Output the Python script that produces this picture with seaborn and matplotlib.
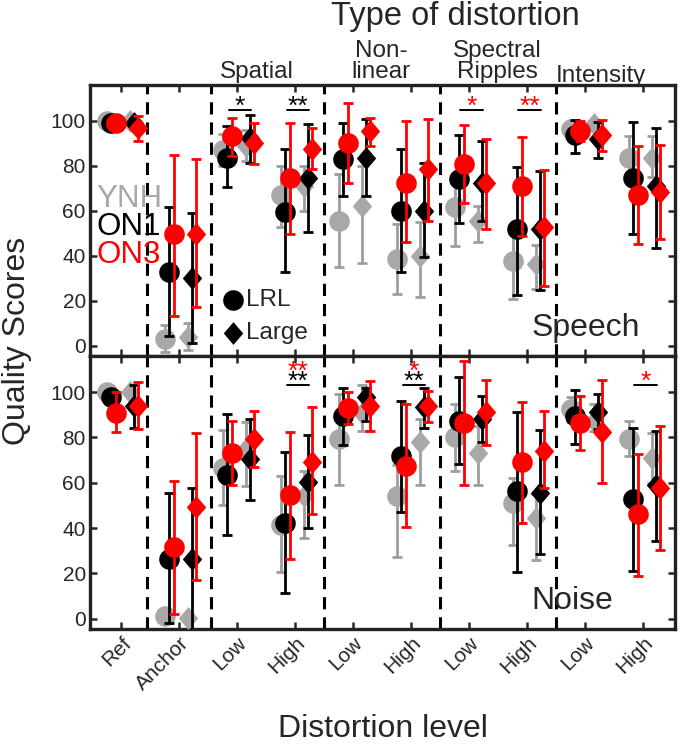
import numpy as np
import pandas as pd
import matplotlib
matplotlib.use("Agg")
import matplotlib.pyplot as plt
from matplotlib.path import Path
import seaborn as sns

# 类别
levels = ["Ref", "Anchor", "Low", "High", "Low", "High", "Low", "High", "Low", "High"]
groups = ["YNH", "ON1", "ON3"]
ftypes = ["LRL", "Large"]

# Speech 数据 (均值, 下限, 上限)
sp_ynh_lrl = [100, 3, 87, 67, 55.5, 38.5, 61.5, 37.8, 96.3, 83.7]
sp_ynh_lrl_lo = [99, -3, 80, 52.6, 34.8, 23, 44.4, 20.7, 93, 75]
sp_ynh_lrl_hi = [101, 9, 94, 80, 76.3, 54, 75, 50, 99, 93.3]
sp_on1_lrl = [99, 32.6, 83.4, 59.3, 83, 60, 74, 51.8, 93.6, 74.8]
sp_on1_lrl_lo = [98, 4.4, 70.4, 32.6, 66.7, 32.6, 54.8, 22.5, 85.6, 49.6]
sp_on1_lrl_hi = [100, 61.5, 97.8, 87.7, 99.3, 87.4, 93.6, 79.3, 100.3, 99.5]
sp_on3_lrl = [99.3, 49.6, 93.3, 74.5, 90.4, 72.6, 80.7, 71, 95.5, 67]
sp_on3_lrl_lo = [98, 13.3, 84.4, 49.6, 72.6, 46.2, 63.4, 48.9, 91, 45.2]
sp_on3_lrl_hi = [100.5, 85, 101.5, 99.3, 108, 100, 98.2, 93, 100, 88.9]
sp_ynh_large = [100, 3.7, 89, 71, 62.2, 40, 55.5, 36.3, 98.5, 83.7]
sp_ynh_large_lo = [99, -2, 82, 60, 37, 21.5, 46, 25, 96, 75]
sp_ynh_large_hi = [101, 10, 96, 80, 80, 55, 62, 45, 100, 93.3]
sp_on1_large = [99, 30, 92.6, 74.4, 83.7, 60, 72.6, 51.8, 92.1, 71]
sp_on1_large_lo = [97, 1, 81.5, 50.7, 66.7, 39.3, 55.5, 24.9, 83.7, 43.3]
sp_on1_large_hi = [101, 59, 102.5, 98.5, 100.7, 81.5, 91, 77.8, 99.5, 97]
sp_on3_large = [96.7, 49.6, 90.4, 87.4, 95.5, 78.5, 72.3, 52.6, 93.6, 68.4]
sp_on3_large_lo = [91, 17.3, 80.7, 78.5, 89, 55.5, 52, 26.7, 86.7, 47.4]
sp_on3_large_hi = [102, 83, 99, 97, 101.5, 100.7, 91.8, 78, 100.4, 89.2]

# Noise 数据
no_ynh_lrl = [100, 1.2, 66.6, 41.3, 79.5, 54, 80.4, 51, 92.6, 79.2]
no_ynh_lrl_lo = [99, -1, 50.2, 20.5, 59.1, 27.2, 65, 32.4, 87, 72]
no_ynh_lrl_hi = [101, 3, 83.4, 62.9, 99.3, 68, 95, 62, 98, 87.4]
no_on1_lrl = [97.8, 26.4, 63.6, 42.3, 89.6, 71.8, 87.4, 56.2, 89.6, 52.7]
no_on1_lrl_lo = [95, -1.8, 36.8, 11.3, 76.7, 47.3, 68.4, 20.8, 77.3, 21.2]
no_on1_lrl_hi = [100, 55.7, 90.3, 73.6, 102, 96, 106.7, 91.4, 101.2, 84.4]
no_on3_lrl = [91, 31.6, 73.3, 54.4, 92.9, 67.3, 86.6, 69.1, 86.6, 46.2]
no_on3_lrl_lo = [82.5, 2.2, 59.1, 26.4, 85.9, 40.3, 59.1, 42.3, 74.3, 18.6]
no_on3_lrl_hi = [100.3, 60.6, 87.4, 82.5, 100, 94.8, 114, 95.5, 98.5, 72.5]
no_ynh_large = [100, 0.4, 74.7, 54, 91, 78, 73.3, 44.3, 87.4, 71]
no_ynh_large_lo = [99, -1, 58.4, 35.4, 83, 59.1, 59.1, 26, 83, 60]
no_ynh_large_hi = [101, 2, 86.9, 65, 103, 88, 85, 55, 95, 82]
no_on1_large = [93.8, 26.4, 70.3, 60.3, 97.8, 93.3, 88.1, 55.7, 91.4, 59.1]
no_on1_large_lo = [84.4, -5.5, 52.2, 39.8, 87.4, 84.4, 78, 28.4, 83.7, 34.3]
no_on1_large_hi = [103, 57.7, 88.1, 81, 102, 101.8, 98.5, 83.4, 99.3, 82.9]
no_on3_large = [94, 49.5, 79.2, 69.1, 94, 93.8, 91.4, 74, 82.5, 57.7]
no_on3_large_lo = [83.7, 17.1, 67, 46, 83, 86.9, 76.5, 57.7, 59.9, 30.2]
no_on3_large_hi = [104.5, 81.9, 91.8, 93.3, 105, 100.7, 105.6, 91.8, 105.2, 85.1]

# 显著性标记: (类别序号, [(文字, 颜色), ...] 自下而上)
sp_sig = [(3, [("*", "black")]), (4, [("**", "black")]),
          (7, [("*", "red")]), (8, [("**", "red")])]
no_sig = [(4, [("**", "black"), ("**", "red")]),
          (6, [("**", "black"), ("*", "red")]),
          (10, [("*", "red")])]

panels = {
    "Speech": {
        ("YNH", "LRL"): (sp_ynh_lrl, sp_ynh_lrl_lo, sp_ynh_lrl_hi),
        ("ON1", "LRL"): (sp_on1_lrl, sp_on1_lrl_lo, sp_on1_lrl_hi),
        ("ON3", "LRL"): (sp_on3_lrl, sp_on3_lrl_lo, sp_on3_lrl_hi),
        ("YNH", "Large"): (sp_ynh_large, sp_ynh_large_lo, sp_ynh_large_hi),
        ("ON1", "Large"): (sp_on1_large, sp_on1_large_lo, sp_on1_large_hi),
        ("ON3", "Large"): (sp_on3_large, sp_on3_large_lo, sp_on3_large_hi),
    },
    "Noise": {
        ("YNH", "LRL"): (no_ynh_lrl, no_ynh_lrl_lo, no_ynh_lrl_hi),
        ("ON1", "LRL"): (no_on1_lrl, no_on1_lrl_lo, no_on1_lrl_hi),
        ("ON3", "LRL"): (no_on3_lrl, no_on3_lrl_lo, no_on3_lrl_hi),
        ("YNH", "Large"): (no_ynh_large, no_ynh_large_lo, no_ynh_large_hi),
        ("ON1", "Large"): (no_on1_large, no_on1_large_lo, no_on1_large_hi),
        ("ON3", "Large"): (no_on3_large, no_on3_large_lo, no_on3_large_hi),
    },
}

# 样式
sns.set_style("ticks")
plt.rcParams['font.family'] = ['Liberation Sans', 'DejaVu Sans']

marker_col = {"YNH": "#A8A8A8", "ON1": "black", "ON3": "#FF0000"}
err_col = {"YNH": "#9E9E9E", "ON1": "black", "ON3": "#FF0000"}
offset = {("YNH", "LRL"): -0.25, ("ON1", "LRL"): -0.17, ("ON3", "LRL"): -0.09,
          ("YNH", "Large"): 0.15, ("ON1", "Large"): 0.22, ("ON3", "Large"): 0.29}
diamond = Path([(0, 1), (0.85, 0), (0, -1), (-0.85, 0), (0, 1)],
               [Path.MOVETO, Path.LINETO, Path.LINETO, Path.LINETO, Path.CLOSEPOLY])
markers = {"LRL": "o", "Large": diamond}
sizes = {"LRL": 220, "Large": 270}

fig = plt.figure(figsize=(6.8, 7.46), dpi=100)
W, H = 680, 746
ax_top = fig.add_axes([90 / W, 1 - 356 / H, 585 / W, 271 / H])
ax_bot = fig.add_axes([90 / W, 1 - 629 / H, 585 / W, 273 / H])
xpos = np.arange(1, len(levels) + 1)

for ax, (name, pdata), sig in zip([ax_top, ax_bot], panels.items(), [sp_sig, no_sig]):
    rows = []
    for (g, t), (m, lo, hi) in pdata.items():
        for i in range(len(levels)):
            rows.append({"x": xpos[i] + offset[(g, t)], "score": m[i], "lo": lo[i],
                         "hi": hi[i], "group": g, "type": t})
    df = pd.DataFrame(rows)

    # 分组绘制：误差线 + 点
    for k, g in enumerate(groups):
        sub = df[df["group"] == g]
        ax.errorbar(sub["x"], sub["score"],
                    yerr=[sub["score"] - sub["lo"], sub["hi"] - sub["score"]],
                    fmt="none", ecolor=err_col[g], elinewidth=2.0, capsize=3.5,
                    capthick=2.0, zorder=2 + 2 * k)
        for t in ftypes:
            st = sub[sub["type"] == t]
            sns.scatterplot(data=st, x="x", y="score", ax=ax, color=marker_col[g],
                            marker=markers[t], s=sizes[t], linewidth=0,
                            legend=False, zorder=3 + 2 * k)

    # 分隔虚线
    for xv in [1.45, 2.55, 4.5, 6.5, 8.5]:
        ax.axvline(xv, color="black", lw=2.2, dashes=(4, 2.6), zorder=1)

    # 显著性
    base = 105 if name == "Speech" else 103.3
    for ci, stars in sig:
        ax.plot([ci - 0.15, ci + 0.24], [base, base], color="black", lw=1.4, zorder=10)
        for j, (txt, c) in enumerate(stars):
            ax.text(ci + 0.045, base - 1.8 + 4.6 * j, txt, color=c, fontsize=19,
                    ha="center", va="baseline", zorder=10)

    ax.set_xlim(0.46, 10.55)
    ax.set_ylim(-4.6, 116)
    ax.set_yticks([0, 20, 40, 60, 80, 100])
    ax.set_xticks(xpos)
    ax.set_xlabel("")
    ax.set_ylabel("")
    ax.tick_params(direction="in", length=5, width=1.8, top=True, right=True,
                   labelsize=15, pad=3)
    for s in ax.spines.values():
        s.set_linewidth(2.4)
        s.set_color("#222222")
    ax.text(0.754, 0.075, name, transform=ax.transAxes, fontsize=23,
            ha="left", va="baseline")

ax_top.set_xticklabels([])
ax_bot.set_xticklabels(levels, rotation=45, ha="right", rotation_mode="anchor")

# 图例文字
fig.text(96 / W, 1 - 207 / H, "YNH", color="#A8A8A8", fontsize=22.5, va="baseline")
fig.text(96 / W, 1 - 235 / H, "ON1", color="black", fontsize=22.5, va="baseline")
fig.text(96 / W, 1 - 263 / H, "ON3", color="#FF0000", fontsize=22.5, va="baseline")
ax_top.scatter([2.92], [20.5], marker="o", s=220, color="black", linewidth=0, zorder=12)
ax_top.scatter([2.92], [5.5], marker=diamond, s=270, color="black", linewidth=0, zorder=12)
ax_top.text(3.15, 20.5, "LRL", fontsize=17.5, va="center", zorder=12)
ax_top.text(3.15, 5.5, "Large", fontsize=17.5, va="center", zorder=12)

# 标题和轴标签
fig.text(455 / W, 1 - 25 / H, "Type of distortion", fontsize=23.5, ha="center", va="baseline")
fig.text(257 / W, 1 - 78 / H, "Spatial", fontsize=17.5, ha="center", va="baseline")
fig.text(381 / W, 1 - 78 / H, "Non-\nlinear", fontsize=17.5, ha="center", va="baseline",
         linespacing=0.95)
fig.text(497 / W, 1 - 78 / H, "Spectral\nRipples", fontsize=17.5, ha="center", va="baseline",
         linespacing=0.95)
fig.text(601 / W, 1 - 82 / H, "Intensity", fontsize=17.5, ha="center", va="baseline")
fig.text(17 / W, 1 - 341 / H, "Quality Scores", fontsize=23, rotation=90,
         ha="center", va="center")
fig.text(383 / W, 1 - 737 / H, "Distortion level", fontsize=23, ha="center", va="baseline")

fig.savefig("out.png", dpi=100)
